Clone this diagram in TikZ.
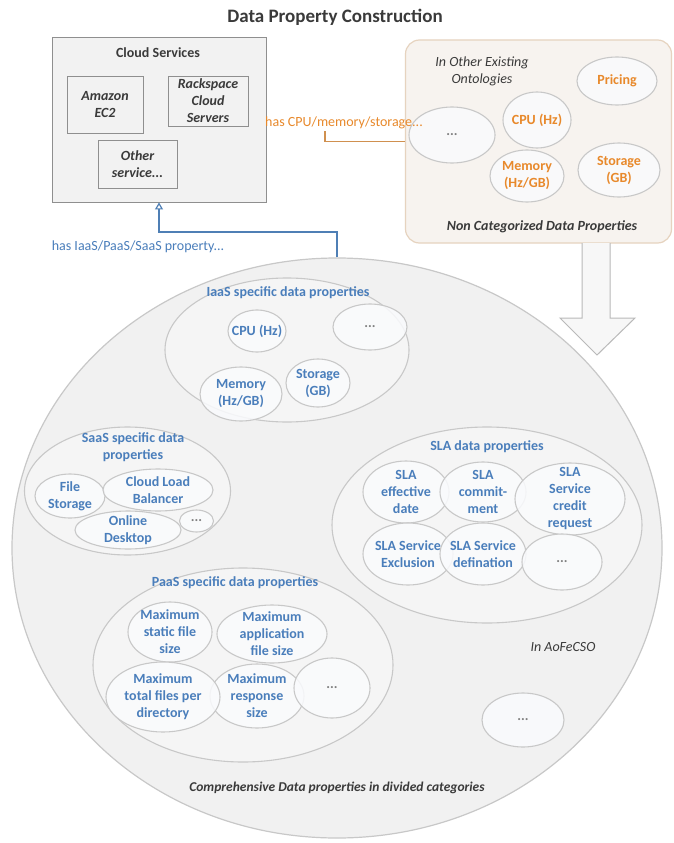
\documentclass[tikz,border=0pt]{standalone}
\usepackage{fontspec}
\setmainfont{Carlito}
\usetikzlibrary{shapes.geometric,arrows.meta}
\definecolor{txtblue}{HTML}{4A7EBB}
\definecolor{txtorange}{HTML}{E8892B}
\definecolor{txtdark}{HTML}{3A3A3A}
\definecolor{elledge}{HTML}{C8C8C8}
\definecolor{bigfill}{HTML}{F1F1F1}
\definecolor{catfill}{HTML}{F5F5F5}
\definecolor{smallfill}{HTML}{FAFBFD}
\definecolor{boxedge}{HTML}{8F8F8F}
\definecolor{boxfill}{HTML}{F2F2F2}
\definecolor{orangeedge}{HTML}{E6D3BF}
\definecolor{orangefill}{HTML}{F7F3EF}
\definecolor{orangeline}{HTML}{D0904F}
\definecolor{blueline}{HTML}{4F7FB5}
\begin{document}
\begin{tikzpicture}[x=1pt,y=-1pt,
  every node/.style={inner sep=0pt, align=center},
  txt/.style={font=\fontsize{14}{17}\selectfont},
  btxt/.style={font=\fontsize{14}{17}\selectfont\bfseries},
  sbox/.style={rectangle, draw=boxedge, line width=0.9pt, fill=boxfill, font=\fontsize{14}{17}\selectfont\bfseries\itshape, text=txtdark},
  bigell/.style={ellipse, draw=elledge, line width=1.2pt, fill=bigfill},
  catell/.style={ellipse, draw=elledge, line width=1.1pt, fill=catfill},
  smell/.style={ellipse, draw=elledge, line width=1.1pt, fill=smallfill, fill opacity=0.85},
  btext/.style={btxt, text=txtblue, text opacity=1},
  otext/.style={btxt, text=txtorange, text opacity=1},
  dtext/.style={btxt, text=gray, text opacity=1},
]
\useasboundingbox (0,0) rectangle (673,843);
\fill[white] (0,0) rectangle (673,843);

% title
\node[font=\fontsize{19}{22}\selectfont\bfseries, text=txtdark] (title) at (335,17) {Data Property Construction};

% cloud services box
\node[rectangle, draw=boxedge, line width=0.9pt, fill=boxfill, minimum width=214, minimum height=165] (cloud) at (159,119.5) {};
\node[btxt, text=txtdark] (cloudlbl) at (158,53) {Cloud Services};
\node[sbox, minimum width=76, minimum height=57] (ec2) at (105,104.5) {Amazon\\EC2};
\node[sbox, minimum width=80, minimum height=50] (rack) at (208,101) {Rackspace\\Cloud\\Servers};
\node[sbox, minimum width=79, minimum height=48] (other) at (137.5,164) {Other\\service...};

% big comprehensive circle
\node[bigell, minimum width=650, minimum height=580] (bigc) at (337,548) {};

% non categorized box
\node[rectangle, rounded corners=14, draw=orangeedge, line width=1.2pt, fill=orangefill, minimum width=266, minimum height=203] (ncat) at (538.5,141.5) {};
\node[font=\fontsize{14}{17}\selectfont\itshape, text=txtdark] (ontlbl) at (482,71) {In Other Existing\\Ontologies};
\node[smell, minimum width=80, minimum height=48, label={[otext]center:Pricing}] (opr) at (617,81) {};
\node[smell, minimum width=68, minimum height=56, label={[otext]center:CPU (Hz)}] (ocpu) at (537,120) {};
\node[smell, minimum width=86, minimum height=56, label={[dtext]center:...}] (odots) at (452,135) {};
\node[smell, minimum width=74, minimum height=52, label={[otext]center:{Memory\\(Hz/GB)}}] (omem) at (527,176) {};
\node[smell, minimum width=82, minimum height=54, label={[otext]center:{Storage\\(GB)}}] (osto) at (619,170) {};
\node[font=\fontsize{14}{17}\selectfont\bfseries\itshape, text=txtdark] (ncatlbl) at (542,227) {Non Categorized Data Properties};

% block arrow from non categorized box into the big circle
\draw[draw=gray!55, line width=1pt, fill=gray!6, line join=miter]
  (582,243) -- (582,318) -- (560,318) -- (597,355) -- (635,318) -- (610,318) -- (610,243);

% has CPU/memory/storage connector
\node[txt, text=txtorange] (cpulbl) at (344,123) {has CPU/memory/storage...};
\coordinate (cpuS) at (325,131);
\draw[orangeline, line width=1.2pt] (cpuS) |- (ncat.west);

% has IaaS/PaaS/SaaS connector
\coordinate (bend) at (337,232);
\draw[blueline, line width=1.2pt, -{Triangle[open, length=7pt, width=8pt]}] (bigc.north) -- (bend) -| (cloud.south);
\node[txt, text=txtblue] (iaaslinklbl) at (138,247) {has IaaS/PaaS/SaaS property...};

% IaaS
\node[catell, minimum width=244, minimum height=144] (iaas) at (287,350) {};
\node[btext] (iaaslbl) at (288,293) {IaaS specific data properties};
\node[smell, minimum width=58, minimum height=42, label={[btext]center:CPU (Hz)}] (icpu) at (257,331) {};
\node[smell, minimum width=74, minimum height=46, label={[dtext]center:...}] (idots) at (370,327) {};
\node[smell, minimum width=82, minimum height=54, label={[btext]center:{Memory\\(Hz/GB)}}] (imem) at (241,394) {};
\node[smell, minimum width=64, minimum height=48, label={[btext]center:{Storage\\(GB)}}] (isto) at (318,383) {};

% SaaS
\node[catell, minimum width=206, minimum height=128] (saas) at (127.5,491) {};
\node[btext] (saaslbl) at (133,447.5) {SaaS specific data\\properties};
\node[smell, minimum width=70, minimum height=44, label={[btext]center:{File\\Storage}}] (sfile) at (70,496) {};
\node[smell, minimum width=110, minimum height=42, label={[btext]center:{Cloud Load\\Balancer}}] (sclb) at (158,490) {};
\node[smell, minimum width=106, minimum height=38, label={[btext]center:{Online\\Desktop}}] (sonl) at (128,530) {};
\node[smell, minimum width=34, minimum height=22, label={[dtext]center:...}] (sdots) at (196.5,521) {};

% SLA
\node[catell, minimum width=310, minimum height=196] (sla) at (487,525) {};
\node[btext] (slalbl) at (487,447) {SLA data properties};
\node[smell, minimum width=86, minimum height=62, label={[btext]center:{SLA\\effective\\date}}] (seff) at (406,492) {};
\node[smell, minimum width=86, minimum height=60, label={[btext]center:{SLA\\commit-\\ment}}] (scom) at (483,492) {};
\node[smell, minimum width=110, minimum height=72, label={[btext]center:{SLA\\Service\\credit\\request}}] (scred) at (570,499) {};
\node[smell, minimum width=90, minimum height=62, label={[btext]center:{SLA Service\\Exclusion}}] (sexcl) at (408,554) {};
\node[smell, minimum width=86, minimum height=62, label={[btext]center:{SLA Service\\defination}}] (sdef) at (483,554) {};
\node[smell, minimum width=80, minimum height=56, label={[dtext]center:...}] (sldots) at (562,562) {};

% PaaS
\node[catell, minimum width=300, minimum height=194] (paas) at (243,665) {};
\node[btext] (paaslbl) at (235,583) {PaaS specific data properties};
\node[smell, minimum width=84, minimum height=60, label={[btext]center:{Maximum\\static file\\size}}] (pstat) at (170,632) {};
\node[smell, minimum width=110, minimum height=58, label={[btext]center:{Maximum\\application\\file size}}] (papp) at (272,634) {};
\node[smell, minimum width=94, minimum height=64, label={[btext]center:{Maximum\\response\\size}}] (presp) at (257,696) {};
\node[smell, minimum width=114, minimum height=70, label={[btext]center:{Maximum\\total files per\\directory}}] (ptot) at (163,697) {};
\node[smell, minimum width=76, minimum height=60, label={[dtext]center:...}] (pdots) at (332,688) {};

% other labels in big circle
\node[font=\fontsize{14}{17}\selectfont\itshape, text=txtdark] (aofe) at (563,647) {In AoFeCSO};
\node[smell, minimum width=82, minimum height=54, label={[dtext]center:...}] (ldots) at (523,720) {};
\node[font=\fontsize{13.5}{16}\selectfont\bfseries\itshape, text=txtdark] (complbl) at (337,788) {Comprehensive Data properties in divided categories};
\end{tikzpicture}
\end{document}
